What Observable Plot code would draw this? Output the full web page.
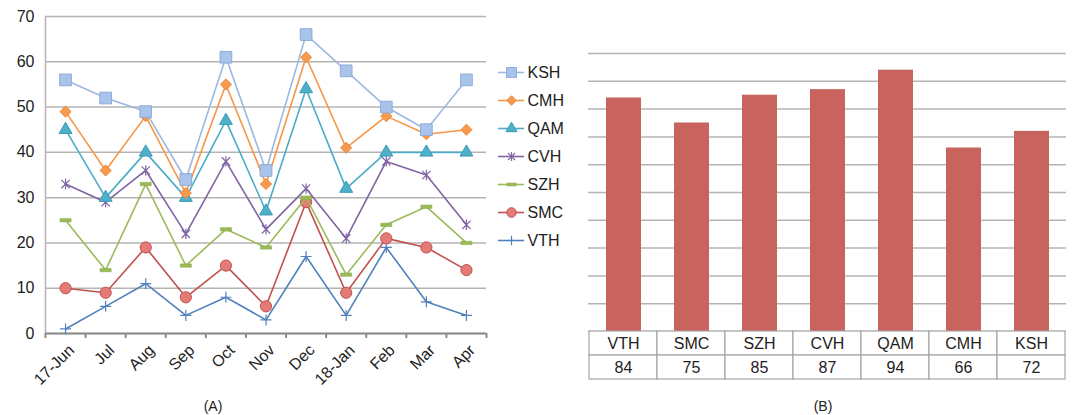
<!DOCTYPE html>
<html><head><meta charset="utf-8">
<script src="https://cdn.jsdelivr.net/npm/d3@7"></script>
<script src="https://cdn.jsdelivr.net/npm/@observablehq/plot@0.6"></script>
<style>
body{margin:0;background:#fff;font-family:"Liberation Sans",Arial,sans-serif;}
#root{position:relative;width:1072px;height:415px;overflow:hidden;background:#fff;}
#root svg{position:absolute;overflow:visible;font-family:"Liberation Sans",Arial,sans-serif;}
.cap{position:absolute;font-size:14px;color:#222;transform:translate(-50%,-50%);white-space:nowrap;}
</style></head><body><div id="root"></div>
<script>
// ---- data ----
const months = ["17-Jun","Jul","Aug","Sep","Oct","Nov","Dec","18-Jan","Feb","Mar","Apr"];
const KSH = [56, 52, 49, 34, 61, 36, 66, 58, 50, 45, 56];
const CMH = [49, 36, 48, 31, 55, 33, 61, 41, 48, 44, 45];
const QAM = [45, 30, 40, 30, 47, 27, 54, 32, 40, 40, 40];
const CVH = [33, 29, 36, 22, 38, 23, 32, 21, 38, 35, 24];
const SZH = [25, 14, 33, 15, 23, 19, 30, 13, 24, 28, 20];
const SMC = [10,  9, 19,  8, 15,  6, 29,  9, 21, 19, 14];
const VTH = [ 1,  6, 11,  4,  8,  3, 17,  4, 19,  7,  4];
const legendNames = ["KSH","CMH","QAM","CVH","SZH","SMC","VTH"];
const yTicksA = [0,10,20,30,40,50,60,70];

const barNames = ["VTH","SMC","SZH","CVH","QAM","CMH","KSH"];
const barValues = [84, 75, 85, 87, 94, 66, 72];
const yTicksB = [0,10,20,30,40,50,60,70,80,90,100];

// ---- styles ----
const starSym = {draw(ctx, size){const r=Math.sqrt(size/Math.PI);const a=r*0.8;
  ctx.moveTo(0,-r);ctx.lineTo(0,r);ctx.moveTo(-a,-a);ctx.lineTo(a,a);ctx.moveTo(-a,a);ctx.lineTo(a,-a);}};
const dashSym = {draw(ctx, size){const r=Math.sqrt(size/Math.PI);const h=r*0.3;
  ctx.moveTo(-r,-h);ctx.lineTo(r,-h);ctx.lineTo(r,h);ctx.lineTo(-r,h);ctx.closePath();}};
const plusSym = {draw(ctx, size){const r=Math.sqrt(size/Math.PI);
  ctx.moveTo(0,-r);ctx.lineTo(0,r);ctx.moveTo(-r,0);ctx.lineTo(r,0);}};
const seriesData = {KSH, CMH, QAM, CVH, SZH, SMC, VTH};
const style = {
  KSH:{line:"#9db8e0", symbol:"square", r:6.6, fill:"#a9c4eb", stroke:"#8eabd8", sw:1},
  CMH:{line:"#f79646", symbol:"diamond2", r:5.0, fill:"#f79a4e", stroke:"#e8873a", sw:1},
  QAM:{line:"#4bacc6", symbol:"triangle", r:4.8, fill:"#4fb0ca", stroke:"#3d9ab3", sw:1},
  CVH:{line:"#8064a2", symbol:starSym, r:5.2, fill:"none", stroke:"#8064a2", sw:1.2},
  SZH:{line:"#9bbb59", symbol:dashSym, r:5.5, fill:"#9bbb59", stroke:"#8aab4a", sw:0.6},
  SMC:{line:"#c0504d", symbol:"circle", r:5.6, fill:"#e47b77", stroke:"#c0504d", sw:1},
  VTH:{line:"#4f81bd", symbol:plusSym, r:5.5, fill:"none", stroke:"#4f81bd", sw:1.2}
};
const drawOrder = ["VTH","SMC","SZH","CVH","QAM","CMH","KSH"];

const root = document.getElementById("root");
function place(el, left, top){el.style.left=left+"px";el.style.top=top+"px";root.appendChild(el);}

// ---- chart A ----
const idx = months.map((m,i)=>i);
const bounds = d3.range(months.length+1).map(i=>i-0.5);
const marksA = [
  Plot.gridY(yTicksA, {stroke:"#b4b4b4", strokeOpacity:1, strokeWidth:1.5}),
  Plot.ruleX([-0.5], {stroke:"#b4b4b4", strokeWidth:1.5}),
  Plot.axisY(yTicksA, {tickSize:0, tickPadding:11, fontSize:16, fill:"#222"}),
  Plot.axisX(bounds, {tickSize:5, tickFormat:()=>"", stroke:"#8c8c8c", strokeWidth:2}),
  Plot.axisX(idx, {tickSize:0, tickPadding:8, dx:6, dy:6, tickFormat:i=>months[i], tickRotate:-45, fontSize:16, fill:"#222"}),
  Plot.ruleY([0], {stroke:"#8c8c8c", strokeWidth:2})
];
for (const k of drawOrder) {
  const s = style[k], vals = seriesData[k];
  marksA.push(Plot.line(vals, {x:(d,i)=>i, y:d=>d, stroke:s.line, strokeWidth:1.6}));
  marksA.push(Plot.dot(vals, {x:(d,i)=>i, y:d=>d, symbol:s.symbol, r:s.r, fill:s.fill, stroke:s.stroke, strokeWidth:s.sw}));
}
const chartA = Plot.plot({
  width:495, height:390, marginLeft:45, marginRight:9, marginTop:16, marginBottom:57,
  x:{type:"linear", domain:[-0.5, months.length-0.5], axis:null},
  y:{domain:[0,70], axis:null},
  style:{background:"transparent"},
  marks:marksA
});
place(chartA, 0, 0);

// ---- legend A ----
const legendMarks = [];
for (const k of legendNames) {
  const s = style[k];
  legendMarks.push(Plot.ruleY([k], {y:d=>d, x1:2, x2:28, stroke:s.line, strokeWidth:1.6}));
  legendMarks.push(Plot.dot([k], {y:d=>d, x:15, symbol:s.symbol, r:s.r*0.85, fill:s.fill, stroke:s.stroke, strokeWidth:s.sw}));
  legendMarks.push(Plot.text([k], {y:d=>d, x:31, text:d=>d, textAnchor:"start", fontSize:16, fill:"#222"}));
}
const legend = Plot.plot({
  width:80, height:196, margin:0,
  x:{domain:[0,80], range:[0,80], axis:null},
  y:{type:"band", domain:legendNames, padding:0, axis:null},
  style:{background:"transparent"},
  marks:legendMarks
});
place(legend, 496, 58);

// ---- chart B ----
const bars = barNames.map((n,i)=>({n, v:barValues[i]}));
const chartB = Plot.plot({
  width:480, height:290, marginLeft:1, marginRight:1, marginTop:10, marginBottom:2,
  x:{type:"band", domain:barNames, paddingInner:0.49, paddingOuter:0.245, axis:null},
  y:{domain:[0,100], axis:null},
  style:{background:"transparent"},
  marks:[
    Plot.gridY(yTicksB, {stroke:"#b4b4b4", strokeOpacity:1, strokeWidth:1.5}),
    Plot.barY(bars, {x:"n", y:"v", fill:"#c8635d"})
  ]
});
place(chartB, 587, 43);

// ---- data table B ----
const cells = [];
barNames.forEach((n,i)=>{cells.push({n, row:"name", t:n}); cells.push({n, row:"value", t:String(barValues[i])});});
const table = Plot.plot({
  width:480, height:50, marginLeft:1, marginRight:1, marginTop:1, marginBottom:1,
  x:{type:"band", domain:barNames, padding:0, axis:null},
  y:{type:"band", domain:["name","value"], padding:0, axis:null},
  style:{background:"transparent"},
  marks:[
    Plot.cell(cells, {x:"n", y:"row", fill:"white", stroke:"#a6a6a6", strokeWidth:1.2, inset:0}),
    Plot.text(cells, {x:"n", y:"row", text:"t", fontSize:16, fill:"#222"})
  ]
});
place(table, 587, 330);

// ---- captions ----
for (const [t,x] of [["(A)",213],["(B)",823]]) {
  const d = document.createElement("div"); d.className="cap"; d.textContent=t;
  d.style.left=x+"px"; d.style.top="406px"; root.appendChild(d);
}
</script></body></html>
